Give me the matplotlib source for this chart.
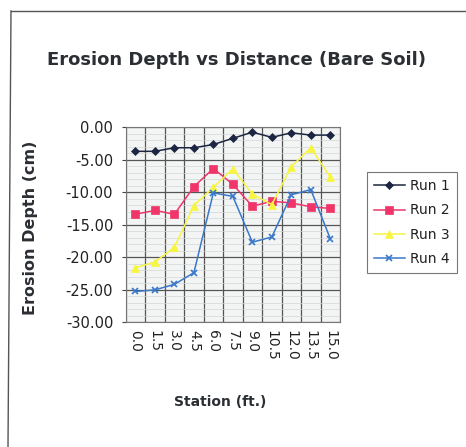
#!/usr/bin/env python3

import matplotlib

matplotlib.use("Agg")
import matplotlib.pyplot as plt
import numpy as np
from matplotlib.lines import Line2D
from matplotlib.ticker import MultipleLocator


WIDTH_PX = 466
HEIGHT_PX = 447
DPI = 100

stations = ["0.0", "1.5", "3.0", "4.5", "6.0", "7.5", "9.0", "10.5", "12.0", "13.5", "15.0"]

run1 = [-3.7, -3.7, -3.15, -3.15, -2.65, -1.7, -0.75, -1.55, -0.85, -1.2, -1.2]
run2 = [-13.4, -12.8, -13.4, -9.15, -6.35, -8.8, -12.15, -11.4, -11.65, -12.25, -12.5]
run3 = [-21.65, -20.75, -18.5, -12.05, -9.25, -6.4, -10.3, -11.9, -6.05, -3.15, -7.65]
run4 = [-25.3, -25.05, -24.2, -22.4, -10.1, -10.65, -17.7, -16.9, -10.4, -9.6, -17.15]

series_names = ["Run 1", "Run 2", "Run 3", "Run 4"]


def axes_rect(x0, y0, x1, y1):
    # Pixel box (left, top, right, bottom) to figure fractions.
    return [x0 / WIDTH_PX, 1 - y1 / HEIGHT_PX, (x1 - x0) / WIDTH_PX, (y1 - y0) / HEIGHT_PX]


def main():
    fig = plt.figure(figsize=(WIDTH_PX / DPI, HEIGHT_PX / DPI), dpi=DPI)
    fig.patch.set_facecolor("white")

    # Scanned chart-area border: only top and left edges are visible.
    fig.add_artist(Line2D([11 / WIDTH_PX, 1.0], [1 - 11 / HEIGHT_PX] * 2,
                          transform=fig.transFigure, color="#555555", lw=1.0))
    fig.add_artist(Line2D([11 / WIDTH_PX, 8 / WIDTH_PX], [1 - 11 / HEIGHT_PX, 0.0],
                          transform=fig.transFigure, color="#555555", lw=1.0))

    ax = fig.add_axes(axes_rect(125.7, 127.3, 340, 322))
    ax.set_facecolor("#f3f5f5")

    x = np.arange(len(stations))
    styles = [
        (run1, "#1c2541", "D", 4.5),
        (run2, "#f0356b", "s", 5.5),
        (run3, "#f7f540", "^", 6),
        (run4, "#3a78c9", "x", 5),
    ]
    for (vals, color, marker, ms), name in zip(styles, series_names):
        ax.plot(x, vals, color=color, marker=marker, markersize=ms, lw=1.1,
                markeredgewidth=1.2 if marker == "x" else 0.5,
                markeredgecolor=color, label=name)

    ax.set_xlim(-0.5, len(stations) - 0.5)
    ax.set_ylim(-30, 0)
    ax.set_xticks(x)
    ax.set_xticklabels(stations, rotation=-90, fontsize=10, color="#222222")
    ax.set_xticks(np.arange(len(stations) + 1) - 0.5, minor=True)
    ax.yaxis.set_minor_locator(MultipleLocator(1))
    ax.set_yticks(np.arange(-30, 1, 5))
    ax.set_yticklabels([f"{v:.2f}" for v in np.arange(-30, 1, 5)], fontsize=10.5, color="#222222")

    ax.tick_params(axis="x", which="major", length=0, pad=6)
    ax.tick_params(axis="x", which="minor", length=0)
    ax.tick_params(axis="y", which="major", length=3, pad=6, color="#444444")
    ax.tick_params(axis="y", which="minor", length=0)

    ax.grid(axis="y", which="major", color="#555555", lw=0.9)
    ax.grid(axis="y", which="minor", color="#d2d6d6", lw=0.5)
    ax.grid(axis="x", which="minor", color="#555555", lw=0.9)
    ax.set_axisbelow(True)
    for side in ax.spines.values():
        side.set_color("#777777")
        side.set_linewidth(0.8)

    fig.text(237 / WIDTH_PX, 1 - 60 / HEIGHT_PX, "Erosion Depth vs Distance (Bare Soil)",
             ha="center", va="center", fontsize=13, fontweight="bold", color="#2b2f33")
    fig.text(220 / WIDTH_PX, 1 - 402 / HEIGHT_PX, "Station (ft.)",
             ha="center", va="center", fontsize=10, fontweight="bold", color="#2b2f33")
    fig.text(31 / WIDTH_PX, 1 - 228 / HEIGHT_PX, "Erosion Depth (cm)", rotation=90,
             ha="center", va="center", fontsize=11.5, fontweight="bold", color="#2b2f33")

    leg = fig.legend(loc="upper left", bbox_to_anchor=(367 / WIDTH_PX, 1 - 172 / HEIGHT_PX),
                     bbox_transform=fig.transFigure, borderaxespad=0, fontsize=10,
                     frameon=True, fancybox=False, handlelength=2.2, labelspacing=0.75,
                     borderpad=0.5, handletextpad=0.4)
    leg.get_frame().set_edgecolor("#555555")
    leg.get_frame().set_linewidth(0.8)
    for t in leg.get_texts():
        t.set_color("#222222")

    fig.savefig("out.png", dpi=DPI)
    plt.close(fig)


if __name__ == "__main__":
    main()
